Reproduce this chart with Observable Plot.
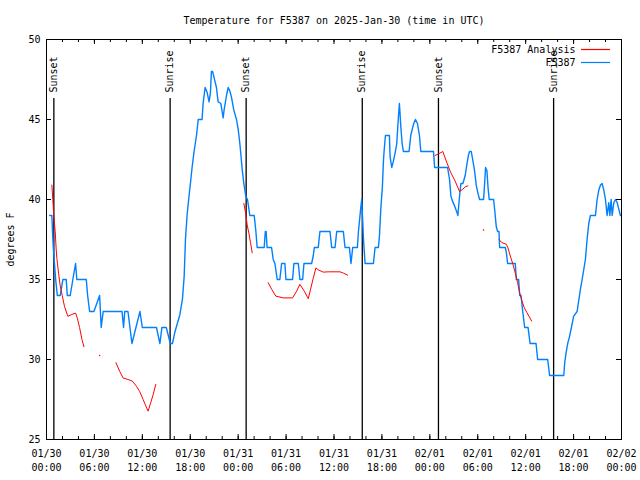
<!DOCTYPE html>
<html><head><meta charset="utf-8">
<script src="https://cdn.jsdelivr.net/npm/d3@7"></script>
<script src="https://cdn.jsdelivr.net/npm/@observablehq/plot@0.6"></script>
<style>body{margin:0;background:#fff;} svg{display:block}</style>
</head><body><div id="chart"></div>
<script>
const title = "Temperature for F5387 on 2025-Jan-30 (time in UTC)";
const yLabel = "degrees F";
const seriesNames = ["F5387 Analysis", "F5387"];
const seriesColors = ["#ff0000", "#0080ff"];
const startUTC = "2025-01-30T00:00:00Z";
const endUTC = "2025-02-02T00:00:00Z";
const xTicks = ["2025-01-30T00:00:00Z","2025-01-30T06:00:00Z","2025-01-30T12:00:00Z","2025-01-30T18:00:00Z",
  "2025-01-31T00:00:00Z","2025-01-31T06:00:00Z","2025-01-31T12:00:00Z","2025-01-31T18:00:00Z",
  "2025-02-01T00:00:00Z","2025-02-01T06:00:00Z","2025-02-01T12:00:00Z","2025-02-01T18:00:00Z",
  "2025-02-02T00:00:00Z"];
const yTicks = [25, 30, 35, 40, 45, 50];
// hours after 2025-01-30 00:00 UTC
const sunHours = [0.92, 15.48, 25.0, 39.54, 49.08, 63.5];
const sunLabels = ["Sunset", "Sunrise", "Sunset", "Sunrise", "Sunset", "Sunrise"];

// F5387 observations (hours after start, degrees F)
const obsHours = [0.40,0.67,0.75,0.85,1.00,1.15,1.35,1.72,2.05,2.47,2.60,2.97,3.30,3.64,3.80,4.98,5.15,5.40,5.94,6.65,6.85,7.10,9.46,9.65,9.80,10.20,10.70,11.20,11.70,12.00,13.77,14.20,14.45,15.00,15.50,15.77,
  16.07,16.70,17.03,17.24,17.40,17.60,17.80,18.02,18.23,18.48,18.78,19.00,19.48,19.61,19.86,20.11,20.36,20.53,20.65,20.80,20.99,21.28,21.49,21.83,22.12,22.24,22.54,22.75,22.95,23.16,23.45,23.79,24.00,24.21,24.34,24.50,24.71,24.96,25.17,
  25.46,26.01,26.22,26.38,27.26,27.40,27.50,27.62,28.18,28.39,28.60,28.89,29.22,29.44,29.85,29.98,30.81,30.98,31.53,31.73,32.07,32.24,33.20,33.41,33.54,34.03,34.24,35.50,35.71,36.13,36.34,37.17,37.38,37.93,38.13,38.34,38.93,39.06,39.18,39.35,39.47,39.60,39.68,39.89,
  40.94,41.14,41.56,41.69,41.86,42.06,42.19,42.27,42.44,42.94,43.02,43.23,43.44,43.65,43.86,44.07,44.19,44.36,44.53,44.69,45.40,45.61,45.95,46.20,46.45,46.70,46.87,48.46,48.60,
  50.22,50.47,50.64,50.84,51.10,51.39,51.51,51.72,51.89,52.14,52.43,52.64,52.85,52.98,53.19,53.40,53.60,53.81,54.02,54.23,54.73,54.86,54.98,55.15,55.28,55.44,55.99,56.15,56.32,56.49,56.66,56.74,57.45,57.58,57.74,58.70,58.83,59.12,59.25,59.42,59.63,59.88,60.30,60.38,60.55,61.30,61.50,62.76,63.00,64.77,
  64.89,65.06,65.19,65.31,65.48,65.60,65.73,66.00,66.44,66.86,67.07,67.48,67.69,67.90,68.11,68.74,68.95,69.16,69.37,69.57,69.78,69.99,70.20,70.41,70.54,70.70,70.83,71.04,71.25,71.46,71.66,71.87];
const obsTemps = [39,39,38,37,36,35,34,34,35,35,34,34,35,36,35,35,34,33,33,34,32,33,33,32,33,33,31,32,33,32,32,31,32,32,31,31,
  31.7,32.8,33.8,35.2,37.5,39,40,41,42,43,44,45,45,46,47,46.7,46.1,46.7,48,48,47.6,47,46.1,46,45.1,45.6,46.5,47,46.8,46.4,45.6,45,44.4,43.5,42.8,41.9,41,40.2,40,
  39,39,38,37,37,38,38,37,37,36.25,36,35,35,36,36,35,35,36,36,35,35,36,36,36.5,37,37,38,38,37,37,38,38,37,37,36,37,37,38,38.6,39.5,40,38.6,37.6,36,
  36,37,37,37.7,39.4,40.8,42.4,43,44,44,42.7,42,42.4,42.9,43.5,45.2,46,44.6,43.5,43,43,44,44.7,45,44.75,44,43,43,42,
  42,41.25,40.2,39.9,39.6,39.2,39,40.2,41,41,41.5,42.2,42.8,43,43,42.4,41.8,40.9,40.4,40,40,41,42,41.8,40.8,40,40,39.2,38.3,38,38,37,37,36.7,36,36,35,35,34,34,33,32,32,31.7,31,31,30,30,29,29,
  29.8,30.4,30.8,31.1,31.4,31.7,32,32.7,33,34.4,35,36.25,37.5,38.5,39,39,40,40.6,40.9,41,40.6,40,39,39.8,39,40,39,39.8,40,39.8,39.4,39];

// F5387 Analysis (null = gap)
const anaHours = [0.67,0.79,0.92,1.09,1.21,1.30,1.51,1.72,1.97,2.26,2.68,3.10,3.64,3.85,4.14,4.44,4.69,null,
  6.65,null,
  8.70,9.16,9.58,10.20,10.75,11.26,11.67,12.10,12.43,12.72,13.05,13.35,13.68,null,
  24.71,24.92,25.13,25.34,25.55,25.76,null,
  27.76,28.18,28.72,29.64,30.81,31.32,31.73,32.28,32.78,33.07,33.41,33.74,34.03,34.66,35.29,36.75,37.17,37.71,null,
  48.66,49.08,49.63,50.13,50.63,51.17,51.72,52.14,52.43,52.77,null,
  54.73,null,
  56.66,57.03,57.58,57.78,58.08,58.41,58.70,58.99,59.25,59.54,59.83,60.17,60.75];
const anaTemps = [40.9,40.0,38.9,38.0,36.9,36.3,35.4,34.6,34.0,33.3,32.7,32.8,32.9,32.6,32.0,31.25,30.8,null,
  30.25,null,
  29.8,29.27,28.85,28.75,28.65,28.33,28.0,27.5,27.1,26.77,27.3,27.8,28.44,null,
  39.75,39.2,38.4,37.9,37.3,36.67,null,
  34.8,34.4,33.96,33.85,33.85,34.27,34.7,34.27,33.8,34.4,35.1,35.73,35.6,35.46,35.48,35.48,35.4,35.27,null,
  42.75,42.85,43.0,42.3,41.67,41.15,40.5,40.65,40.8,40.85,null,
  38.1,null,
  37.5,37.3,37.2,36.98,36.46,35.94,35.4,34.8,34.17,33.65,33.23,32.92,32.4];

const t0 = Date.parse(startUTC);
const toDate = h => h == null ? null : new Date(t0 + h * 3600000);
const x0 = new Date(startUTC), x1 = new Date(endUTC);

const obs = obsHours.map((h, i) => ({t: toDate(h), v: obsTemps[i]}));
const ana = anaHours.map((h, i) => ({t: toDate(h), v: anaTemps[i]}));
const anaSingles = ana.filter((d, i) => d.t != null && (i === 0 || ana[i-1].t == null) && (i === ana.length-1 || ana[i+1].t == null));
const sun = sunHours.map((h, i) => ({t: toDate(h), label: sunLabels[i]}));
const majorX = xTicks.map(s => new Date(s));
const minorX = d3.utcHour.every(2).range(x0, new Date(+x1 + 1));

const W = 640, H = 480;
const ml = 46, mr = 19, mt = 39, mb = 41;
const font = "'DejaVu Sans Mono', monospace";

const svg = Plot.plot({
  width: W, height: H,
  marginLeft: ml, marginRight: mr, marginTop: mt, marginBottom: mb,
  style: {fontFamily: font, fontSize: "10px", background: "white", color: "black", overflow: "visible"},
  x: {type: "utc", domain: [x0, x1]},
  y: {domain: [25, 50]},
  marks: [
    Plot.ruleX(sun, {x: "t", stroke: "black", strokeWidth: 1.3, insetTop: 59}),
    Plot.text(sun, {x: "t", text: "label", frameAnchor: "top", rotate: -90, textAnchor: "start", lineAnchor: "middle", dy: 53, fontSize: 10, fill: "black"}),
    Plot.line(obs, {x: "t", y: "v", stroke: seriesColors[1], strokeWidth: 1.4}),
    Plot.line(ana, {x: "t", y: "v", stroke: seriesColors[0], strokeWidth: 1}),
    Plot.dot(anaSingles, {x: "t", y: "v", r: 0.7, fill: seriesColors[0], stroke: null}),
    Plot.frame({stroke: "black", strokeWidth: 1}),
    // inward ticks
    Plot.ruleX(majorX, {x: d => d, y1: 25, y2: 25, insetTop: -5, stroke: "black"}),
    Plot.ruleX(minorX, {x: d => d, y1: 25, y2: 25, insetTop: -3, stroke: "black"}),
    Plot.ruleX(majorX, {x: d => d, y1: 50, y2: 50, insetBottom: -5, stroke: "black"}),
    Plot.ruleX(minorX, {x: d => d, y1: 50, y2: 50, insetBottom: -3, stroke: "black"}),
    Plot.ruleY(yTicks, {y: d => d, x1: x0, x2: x0, insetRight: -5, stroke: "black"}),
    Plot.ruleY(yTicks, {y: d => d, x1: x1, x2: x1, insetLeft: -5, stroke: "black"}),
    Plot.axisX({ticks: majorX, tickFormat: d3.utcFormat("%m/%d\n%H:%M"), tickSize: 0, tickPadding: 8, lineHeight: 1.4, label: null, fontSize: 10}),
    Plot.axisY({ticks: yTicks, tickSize: 0, tickPadding: 6, label: null, fontSize: 10}),
    Plot.text([title], {frameAnchor: "top", dy: -19, lineAnchor: "middle", textAnchor: "middle", fontSize: 10, fill: "black"}),
    Plot.text([yLabel], {frameAnchor: "left", dx: -36, rotate: -90, textAnchor: "middle", lineAnchor: "middle", fontSize: 10, fill: "black"}),
    Plot.text([seriesNames[0]], {frameAnchor: "top-right", dx: -46, dy: 10, textAnchor: "end", lineAnchor: "middle", fontSize: 10, fill: "black"}),
    Plot.text([seriesNames[1]], {frameAnchor: "top-right", dx: -46, dy: 23, textAnchor: "end", lineAnchor: "middle", fontSize: 10, fill: "black"})
  ]
});

const s = d3.select(svg);
const lx1 = W - mr - 40, lx2 = W - mr - 11;
[[mt + 10.5, seriesColors[0]], [mt + 23.5, seriesColors[1]]].forEach(([yy, c]) => {
  s.append("line").attr("x1", lx1).attr("x2", lx2).attr("y1", yy).attr("y2", yy)
   .attr("stroke", c).attr("stroke-width", 1.2);
});
document.getElementById("chart").appendChild(svg);
</script>
</body></html>
